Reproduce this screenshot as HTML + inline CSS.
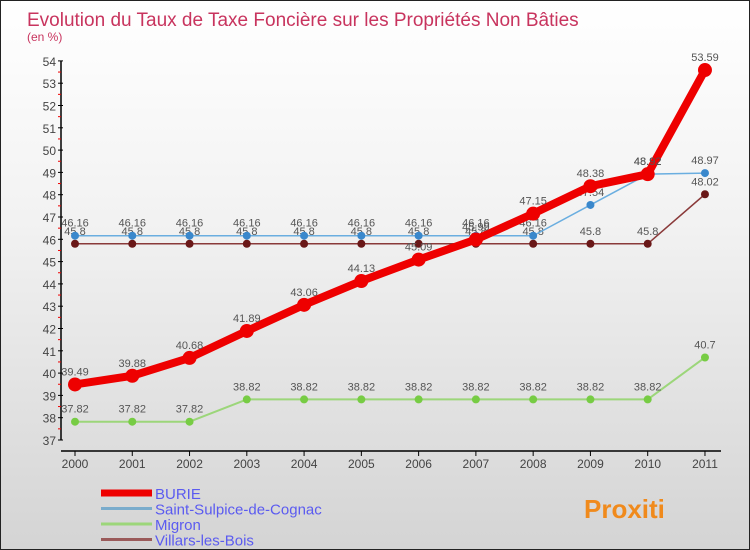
<!DOCTYPE html>
<html><head><meta charset="utf-8"><style>
body{margin:0}
#wrap{width:748px;height:548px;border:1px solid #222;background:linear-gradient(#fff,#f2f2f2 40%,#d4d4d4);position:relative;font-family:"Liberation Sans",sans-serif;overflow:hidden}
</style></head><body>
<div id="wrap">
<svg id="chart" width="748" height="548"></svg>
</div>
<script>
const years=["2000","2001","2002","2003","2004","2005","2006","2007","2008","2009","2010","2011"];
const burie=[39.49,39.88,40.68,41.89,43.06,44.13,45.09,45.99,47.15,48.38,48.92,53.59];
const ssc=[46.16,46.16,46.16,46.16,46.16,46.16,46.16,46.16,46.16,47.54,48.92,48.97];
const migron=[37.82,37.82,37.82,38.82,38.82,38.82,38.82,38.82,38.82,38.82,38.82,40.7];
const villars=[45.8,45.8,45.8,45.8,45.8,45.8,45.8,45.8,45.8,45.8,45.8,48.02];
const yTicks=[37,38,39,40,41,42,43,44,45,46,47,48,49,50,51,52,53,54];
const NS="http://www.w3.org/2000/svg";
const svg=document.getElementById('chart');
const X=i=>74+i*57.27, Y=v=>439-(v-37)*22.3;
function el(t,a,p){const e=document.createElementNS(NS,t);for(const k in a)e.setAttribute(k,a[k]);(p||svg).appendChild(e);return e;}
function txt(x,y,s,a){const e=el('text',Object.assign({x:x,y:y},a));e.textContent=s;return e;}
let t=txt(26,25,"Evolution du Taux de Taxe Foncière sur les Propriétés Non Bâties",{fill:"#c8345e","font-size":"19"});

t=txt(26,40,"(en %)",{fill:"#c8345e","font-size":"12"});

let ax=el('line',{x1:60,y1:Y(54),x2:60,y2:Y(37),stroke:"#000","stroke-width":1.5});

ax=el('line',{x1:60,y1:450,x2:720,y2:450,stroke:"#000","stroke-width":1.5});

yTicks.forEach(v=>{el('line',{x1:57,x2:62,y1:Y(v),y2:Y(v),stroke:"#000"});
 if(v<54)el('line',{x1:57,x2:60,y1:Y(v+0.5),y2:Y(v+0.5),stroke:"#e00"});
 const l=txt(55,Y(v)+5,String(v),{fill:"#444","font-size":"12","text-anchor":"end"});
 });
years.forEach((y,i)=>{el('line',{x1:X(i),x2:X(i),y1:450,y2:455,stroke:"#000"});
 const l=txt(X(i),467,y,{fill:"#444","font-size":"12","text-anchor":"middle"});
 });
function series(data,color,w,r,fill,name){
 const g=el('g',{});
 el('polyline',{points:data.map((v,i)=>X(i)+","+Y(v)).join(" "),fill:"none",stroke:color,"stroke-width":w,"stroke-linejoin":"round"},g);
 data.forEach((v,i)=>{const c=el('circle',{cx:X(i),cy:Y(v),r:r,fill:fill},g);
  
  const l=txt(X(i),Y(v)-9,String(v),{fill:"#555","font-size":"11","text-anchor":"middle"},);g.appendChild(l);
  });
}
series(migron,"#9cd67a",2,4,"#77cc44","migron");
series(villars,"#8a3a3a",1.5,4,"#6a1818","villars-les-bois");
series(ssc,"#6aaee0",1.5,4,"#3a88cc","saint-sulpice-de-cognac");
series(burie,"#ee0000",8,7,"#ee0000","burie");
const legend=[["BURIE","#ee0000",7],["Saint-Sulpice-de-Cognac","#7aaccc",3],["Migron","#9cd67a",3],["Villars-les-Bois","#9a5a5a",3]];
legend.forEach((d,i)=>{const g=el('g',{});
 const y=492+i*15.5;el('line',{x1:100,x2:151,y1:y,y2:y,stroke:d[1],"stroke-width":d[2]},g);
 const l=txt(154,y+6,d[0],{fill:"#5b5bf0","font-size":"15"});g.appendChild(l);});
const logo=txt(583,517,"Proxiti",{"font-size":"26","font-weight":"bold",fill:"#f08a1c"});

</script>
</body></html>
